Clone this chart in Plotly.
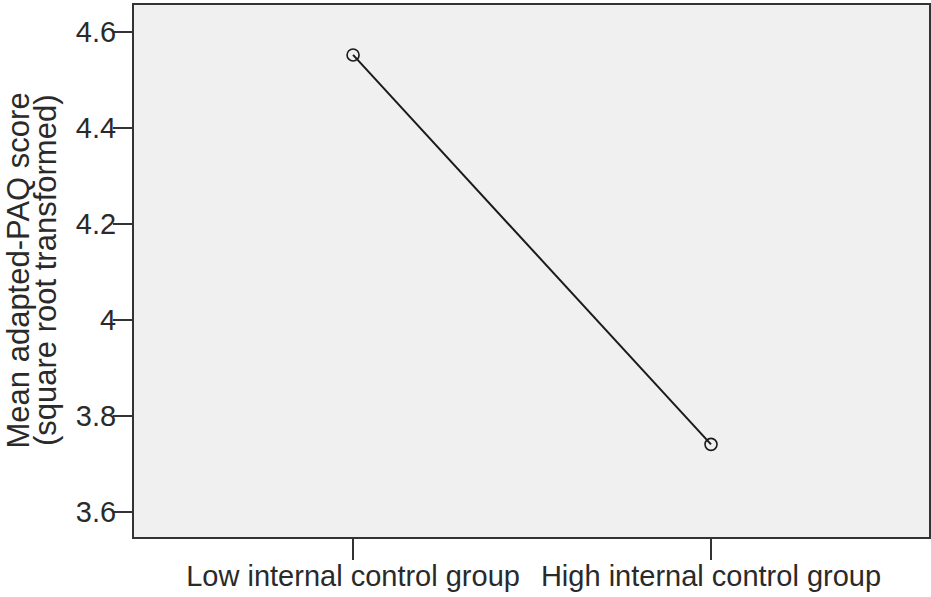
import plotly.graph_objects as go

categories = ["Low internal control group", "High internal control group"]
mean_scores = [4.552, 3.741]
y_tick_vals = [3.6, 3.8, 4.0, 4.2, 4.4, 4.6]
y_tick_text = ["3.6", "3.8", "4", "4.2", "4.4", "4.6"]
y_title_lines = ["Mean adapted-PAQ score", "(square root transformed)"]

FONT = "Liberation Sans, Arial, sans-serif"
TXT = "#2a2a2a"
AX = "#333333"

fig = go.Figure()
fig.add_trace(go.Scatter(
    x=categories, y=mean_scores, mode="lines+markers",
    line=dict(color="#1a1a1a", width=2),
    marker=dict(symbol="circle-open", size=12, color="#1a1a1a", line=dict(width=1.6)),
    showlegend=False, hoverinfo="skip"))

fig.update_layout(
    width=931, height=597,
    margin=dict(l=134, r=2, t=5, b=60, autoexpand=False),
    paper_bgcolor="white", plot_bgcolor="#f0f0f0",
    font=dict(family=FONT, size=29, color=TXT),
    xaxis=dict(type="category", range=[-0.612, 1.609], showgrid=False, zeroline=False,
               ticks="outside", ticklen=21, tickwidth=2, tickcolor=AX,
               showline=True, linecolor=AX, linewidth=2, mirror=True,
               tickfont=dict(size=29, color=TXT), automargin=False,
               ticklabelstandoff=-9),
    yaxis=dict(range=[3.548, 4.656], showgrid=False, zeroline=False,
               tickvals=y_tick_vals, ticktext=y_tick_text,
               ticks="outside", ticklen=19, tickwidth=2, tickcolor=AX,
               showline=True, linecolor=AX, linewidth=2, mirror=True,
               tickfont=dict(size=29, color=TXT), automargin=False,
               ticklabelstandoff=-9),
)
plot_w = 931 - 134 - 2
for i, (line, px) in enumerate(zip(y_title_lines, [17.5, 45.0])):
    fig.add_annotation(text=line, xref="paper", yref="paper",
                       x=-(134 - px) / plot_w, y=0.5, xanchor="center", yanchor="middle",
                       textangle=-90, showarrow=False,
                       font=dict(family=FONT, size=31, color=TXT))
fig.write_html("out.html", config={"displayModeBar": False},
               post_script="document.body.style.margin='0px';document.body.style.overflow='hidden';")
